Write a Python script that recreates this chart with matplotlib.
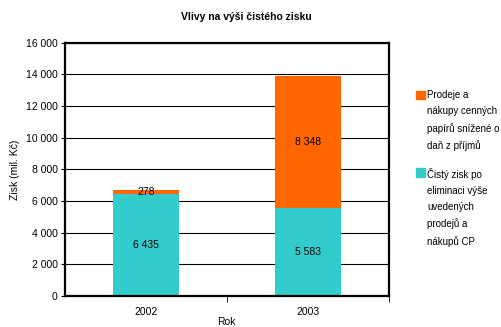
import numpy as np
import matplotlib.pyplot as plt
from matplotlib.patches import Rectangle

plt.rcParams["font.family"] = ["Liberation Sans", "DejaVu Sans"]

years = ["2002", "2003"]
cisty_zisk = [6435, 5583]
prodeje_cp = [278, 8348]
legend_labels = [
    "Prodeje a\nnákupy cenných\npapírů snížené o\ndaň z příjmů",
    "Čistý zisk po\neliminaci výše\nuvedených\nprodejů a\nnákupů CP",
]
teal = "#33CCCC"
orange = "#FF6600"


def fmt(v):
    return f"{v:,}".replace(",", " ")


fig = plt.figure(figsize=(5.02, 3.27), dpi=100)
ax = fig.add_axes([0.129, 0.095, 0.646, 0.774])

x = np.arange(len(years))
w = 0.41
ax.bar(x, cisty_zisk, w, color=teal, zorder=3)
ax.bar(x, prodeje_cp, w, bottom=cisty_zisk, color=orange, zorder=3)

# segment labels
for i in range(len(years)):
    ax.text(x[i], cisty_zisk[i] / 2, fmt(cisty_zisk[i]), ha="center", va="center",
            fontsize=7.5, zorder=4)
    ax.text(x[i], cisty_zisk[i] + prodeje_cp[i] / 2, fmt(prodeje_cp[i]), ha="center",
            va="center", fontsize=7.5, zorder=4)

ax.set_xlim(-0.5, 1.5)
ax.set_ylim(0, 16000)
ax.set_yticks(np.arange(0, 16001, 2000))
ax.set_yticklabels([fmt(v) for v in range(0, 16001, 2000)], fontsize=7.5)
ax.set_xticks(x)
ax.set_xticklabels(years, fontsize=7.5)
ax.set_xticks([0.5, 1.5], minor=True)
ax.tick_params(axis="x", which="major", length=0, pad=8)
ax.tick_params(axis="x", which="minor", length=4, direction="out")
ax.tick_params(axis="y", length=3, direction="out", pad=2)
ax.yaxis.grid(True, color="black", linewidth=0.8, zorder=1)
for s in ax.spines.values():
    s.set_linewidth(1.6)
    s.set_color("black")
    s.set_zorder(5)

ax.set_ylabel("Zisk (mil. Kč)", fontsize=7.5, labelpad=4)
fig.text(0.45, 0.016, "Rok", ha="center", va="center", fontsize=7.5)
fig.text(0.49, 0.948, "Vlivy na výši čistého zisku", ha="center", va="center",
         fontsize=7.5, fontweight="bold")

# legend drawn beside the plot area
legend_colors = [orange, teal]
legend_tops = [0.724, 0.487]
for col, lab, top in zip(legend_colors, legend_labels, legend_tops):
    fig.patches.append(Rectangle((0.829, top - 0.028), 0.018, 0.027,
                                 transform=fig.transFigure, color=col))
    fig.text(0.851, top, lab, ha="left", va="top", fontsize=7, linespacing=1.75)

fig.savefig("out.png", dpi=100)
